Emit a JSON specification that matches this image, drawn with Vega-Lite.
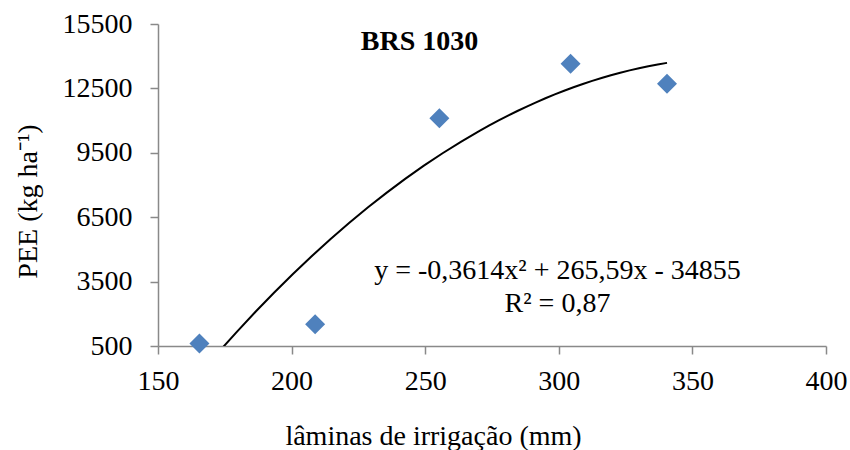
{
  "$schema": "https://vega.github.io/schema/vega-lite/v6.json",
  "width": 668,
  "height": 322,
  "autosize": {"type": "none"},
  "padding": {"left": 158, "top": 24, "right": 24, "bottom": 104},
  "background": "white",
  "config": {
    "view": {"stroke": null},
    "font": "Liberation Serif",
    "axis": {
      "grid": false,
      "domainColor": "#898989",
      "domainWidth": 1.5,
      "tickColor": "#898989",
      "tickWidth": 1.5,
      "tickSize": 8,
      "labelFont": "Liberation Serif",
      "labelFontSize": 28,
      "labelColor": "black",
      "labelFlush": false,
      "labelOverlap": false,
      "titleFont": "Liberation Serif",
      "titleFontSize": 28,
      "titleFontWeight": "normal",
      "titleColor": "black"
    }
  },
  "datasets": {
    "pts": [
      {"lamina": 165.5, "pee": 612},
      {"lamina": 208.8, "pee": 1512},
      {"lamina": 255.3, "pee": 11104},
      {"lamina": 304.4, "pee": 13650},
      {"lamina": 340.5, "pee": 12717}
    ],
    "title": [
      {"lamina": 247.9, "pee": 14288, "label": "BRS 1030"}
    ],
    "notes": [
      {"lamina": 299.5, "pee": 3610, "label": "y = -0,3614x² + 265,59x - 34855"},
      {"lamina": 299.5, "pee": 2071, "label": "R² = 0,87"}
    ]
  },
  "encoding": {
    "x": {
      "field": "lamina",
      "type": "quantitative",
      "scale": {"domain": [150, 400], "nice": false, "zero": false},
      "axis": {
        "values": [150, 200, 250, 300, 350, 400],
        "format": "d",
        "labelPadding": 13,
        "title": "lâminas de irrigação (mm)",
        "titleX": 275,
        "titleY": 98,
        "titleBaseline": "alphabetic",
        "titleAlign": "center"
      }
    },
    "y": {
      "field": "pee",
      "type": "quantitative",
      "scale": {"domain": [500, 15500], "nice": false, "zero": false},
      "axis": {
        "values": [500, 3500, 6500, 9500, 12500, 15500],
        "format": "d",
        "labelPadding": 18,
        "title": "PEE (kg ha⁻¹)",
        "titleX": -122,
        "titleY": 177,
        "titleAngle": -90,
        "titleBaseline": "alphabetic",
        "titleAlign": "center"
      }
    }
  },
  "layer": [
    {
      "data": {"name": "pts"},
      "transform": [
        {"regression": "pee", "on": "lamina", "method": "poly", "order": 2}
      ],
      "mark": {"type": "line", "color": "black", "strokeWidth": 2, "clip": true}
    },
    {
      "data": {"name": "pts"},
      "mark": {
        "type": "point",
        "shape": "diamond",
        "filled": true,
        "size": 400,
        "color": "#4F81BD",
        "opacity": 1
      }
    },
    {
      "data": {"name": "title"},
      "mark": {
        "type": "text",
        "font": "Liberation Serif",
        "fontSize": 28,
        "fontWeight": "bold",
        "color": "black",
        "align": "center",
        "baseline": "alphabetic"
      },
      "encoding": {"text": {"field": "label"}}
    },
    {
      "data": {"name": "notes"},
      "mark": {
        "type": "text",
        "font": "Liberation Serif",
        "fontSize": 28,
        "color": "black",
        "align": "center",
        "baseline": "alphabetic"
      },
      "encoding": {"text": {"field": "label"}}
    }
  ]
}
